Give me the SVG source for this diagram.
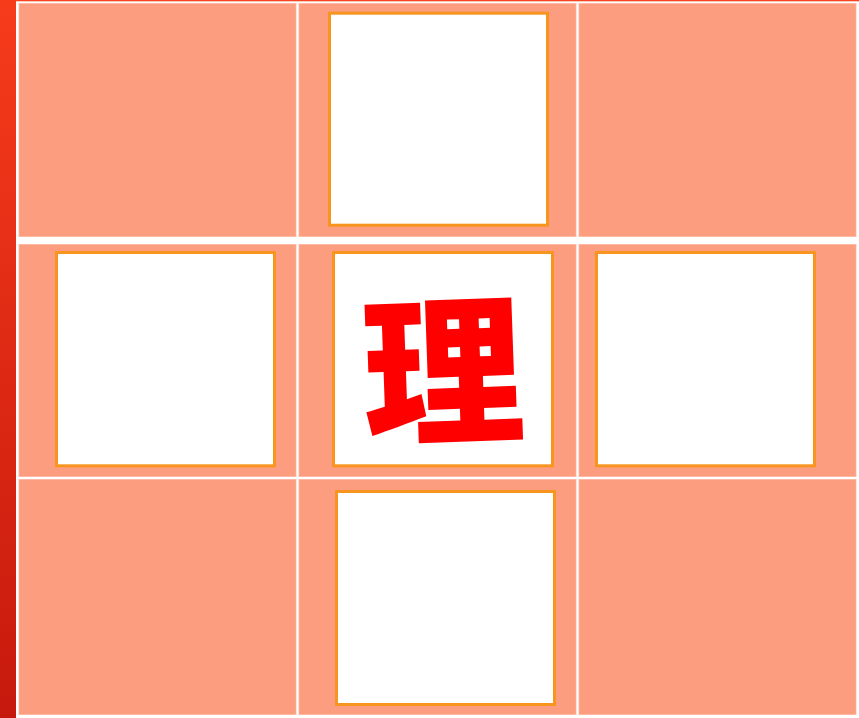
<svg xmlns="http://www.w3.org/2000/svg" width="859" height="718" viewBox="0 0 859 718">
  <defs>
    <linearGradient id="bar" x1="0" y1="0" x2="0" y2="1">
      <stop offset="0" stop-color="#f63b1b"/>
      <stop offset="1" stop-color="#c6190d"/>
    </linearGradient>
    <style>
      .cell { fill: #fd9d7f; stroke: #ffb49c; stroke-width: 0.8; }
      .box { fill: #ffffff; stroke: #f7951f; stroke-width: 3; }
      .char { font-family: "Noto Sans CJK SC", "Noto Sans CJK JP", sans-serif; font-weight: 900; fill: #ff0000; }
    </style>
  </defs>
  <rect x="0" y="0" width="859" height="718" fill="#ffffff"/>
  <rect x="0" y="0" width="16" height="718" fill="url(#bar)"/>
  <rect x="16" y="0" width="843" height="1.3" fill="#f5441f"/>
  <g id="grid">
    <rect class="cell" x="19" y="3.5" width="277" height="233"/>
    <rect class="cell" x="299" y="3.5" width="277" height="233"/>
    <rect class="cell" x="579" y="3.5" width="277" height="233"/>
    <rect class="cell" x="19" y="244.5" width="277" height="232"/>
    <rect class="cell" x="299" y="244.5" width="277" height="232"/>
    <rect class="cell" x="579" y="244.5" width="277" height="232"/>
    <rect class="cell" x="19" y="479.5" width="277" height="235"/>
    <rect class="cell" x="299" y="479.5" width="277" height="235"/>
    <rect class="cell" x="579" y="479.5" width="277" height="235"/>
  </g>
  <g id="box-top"><rect class="box" x="329.5" y="13.2" width="218" height="212"/></g>
  <g id="box-left"><rect class="box" x="56.5" y="252.5" width="218" height="213.3"/></g>
  <g id="box-center">
    <rect class="box" x="333.5" y="252.5" width="219" height="213.3"/>
    <text class="char" x="443" y="432" font-size="162" text-anchor="middle" transform="rotate(-2 443 370)">理</text>
  </g>
  <g id="box-right"><rect class="box" x="596.5" y="252.5" width="218" height="213.3"/></g>
  <g id="box-bottom"><rect class="box" x="336.5" y="491.5" width="218" height="213"/></g>
  <g id="connectors"/>
</svg>
